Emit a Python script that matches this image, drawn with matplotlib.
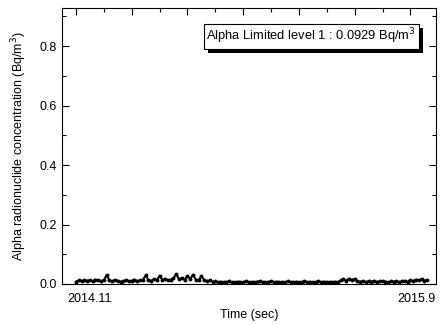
import numpy as np
import matplotlib
matplotlib.use("Agg")
import matplotlib.pyplot as plt
from matplotlib.ticker import MultipleLocator
import matplotlib.transforms as mtransforms
from matplotlib.patches import Rectangle

plt.rcParams['font.family'] = ['Liberation Sans', 'DejaVu Sans']

# Alpha concentration samples (Bq/m^3)
conc_milli = [
    8, 12, 10, 14, 11, 13, 9, 15, 12, 10, 13,
    30,
    12, 9, 14, 11, 8, 10, 13, 9, 11, 15, 10, 12, 14,
    29,
    13, 11, 16, 12,
    28,
    14, 18, 12, 15, 19,
    34,
    16, 20, 14,
    27, 17, 31, 15, 12, 27,
    14, 10, 12, 8, 9,
    6, 8, 5, 7, 9, 6, 5, 8, 7, 6, 9, 5, 7, 6, 8, 10, 6, 5, 7, 9, 6, 8,
    5, 7, 6, 9, 7, 5, 8, 6, 7, 10, 6, 8, 5, 7, 9, 6, 8, 7, 5, 6, 8, 7,
    12, 16, 11, 18, 14, 17,
    9, 8, 10, 7, 9, 8, 11, 7, 9, 10, 8, 6, 9, 8, 10, 7, 9, 11, 8,
    13, 10, 15, 12, 16, 11, 14,
]
conc = np.array(conc_milli) / 1000.0
samples = np.arange(len(conc))

start_label, end_label = "2014.11", "2015.9"
start_pos, end_pos = 5, 122
limit_text = "Alpha Limited level 1 : 0.0929 Bq/m$^3$"

fig = plt.figure(figsize=(4.41, 3.25), dpi=100)
ax = fig.add_axes([0.1406, 0.1262, 0.8481, 0.8492])

ax.plot(samples, conc, color='black', lw=1.4, marker='o', ms=1.8)

ax.set_xlim(-5.0, 129.2)
ax.set_ylim(0, 0.928)

ax.xaxis.set_major_locator(MultipleLocator(20))
ax.xaxis.set_minor_locator(MultipleLocator(10))
ax.yaxis.set_major_locator(MultipleLocator(0.2))
ax.yaxis.set_minor_locator(MultipleLocator(0.1))
ax.tick_params(axis='x', which='both', bottom=False, top=True, labelbottom=False,
               direction='in')
ax.tick_params(axis='y', which='both', left=True, right=True, direction='in')
ax.tick_params(which='major', length=5, width=0.8)
ax.tick_params(which='minor', length=3, width=0.8)
ax.tick_params(axis='y', labelsize=9)
ax.yaxis.set_major_formatter(matplotlib.ticker.FormatStrFormatter('%.1f'))

trans = mtransforms.blended_transform_factory(ax.transData, ax.transAxes)
ax.text(start_pos, -0.055, start_label, transform=trans, ha='center', va='center', fontsize=9)
ax.text(end_pos, -0.055, end_label, transform=trans, ha='center', va='center', fontsize=9)

ax.set_xlabel("Time (sec)", fontsize=9, labelpad=18)
ax.set_ylabel("Alpha radionuclide concentration (Bq/m$^3$)", fontsize=9, labelpad=8)

# limit box with drop shadow
box = ax.text(0.666, 0.897, limit_text, transform=ax.transAxes, ha='center', va='center',
              fontsize=9.3, color='black', zorder=6,
              bbox=dict(boxstyle='square,pad=0.2', fc='white', ec='black', lw=0.8))
fig.canvas.draw()
ext = box.get_bbox_patch().get_window_extent()
ax.add_patch(Rectangle((ext.x0 + 4, ext.y0 - 4), ext.width, ext.height,
                       transform=None, fc='black', ec='none', zorder=5, clip_on=False))

fig.savefig("out.png", dpi=100)
